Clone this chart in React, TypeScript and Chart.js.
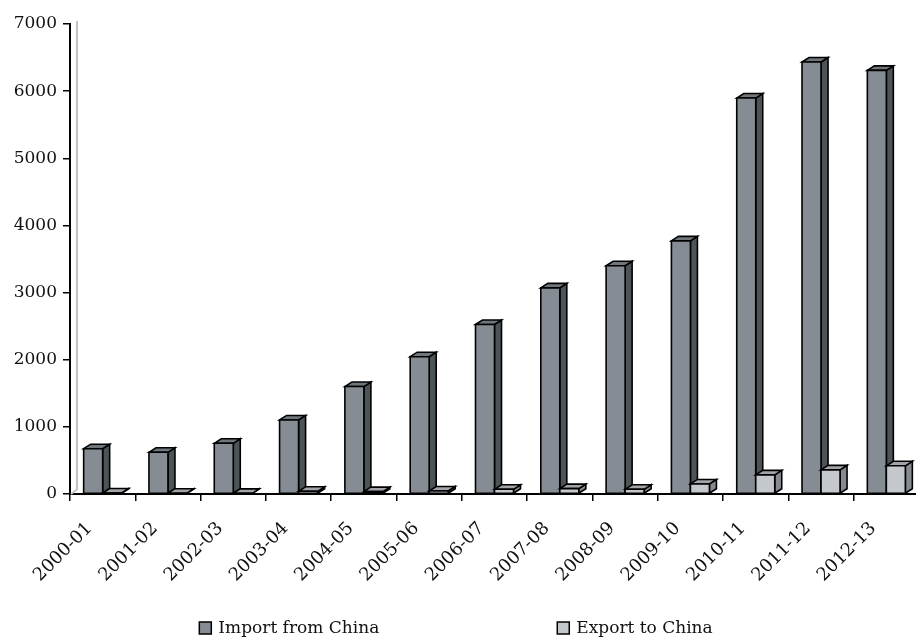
import React, { useEffect, useRef } from "react";
import { Chart, registerables } from "chart.js";

Chart.register(...registerables);

// Fiscal years on the category axis
const categories = [
  "2000-01", "2001-02", "2002-03", "2003-04", "2004-05", "2005-06", "2006-07",
  "2007-08", "2008-09", "2009-10", "2010-11", "2011-12", "2012-13",
];

// Trade values per year
const importFromChina = [675, 621, 755, 1103, 1600, 2045, 2525, 3070, 3400, 3770, 5897, 6434, 6309];
const exportToChina = [15, 12, 10, 40, 35, 45, 70, 80, 70, 150, 285, 360, 420];

const seriesNames = ["Import from China", "Export to China"];
const yMin = 0;
const yMax = 7000;
const yStep = 1000;

const FONT_FAMILY = '"DejaVu Serif", "Liberation Serif", serif';
const FONT_SIZE = 17;
const X_FONT_SIZE = 18;
const TEXT_COLOR = "#111111";

// Face shades for the extruded columns: front, top and right side
const palettes = [
  { front: "#868c93", top: "#6f767c", side: "#4d5457" },
  { front: "#c4c7cc", top: "#a1a5aa", side: "#868b91" },
];
const DEPTH_X = 7;
const DEPTH_Y = 4.5;
const OUTLINE = "#000000";

const CANVAS_W = 930;
const CANVAS_H = 639;

function drawColumn(ctx: CanvasRenderingContext2D, x0: number, x1: number, y: number, base: number, pal: { front: string; top: string; side: string }) {
  ctx.lineWidth = 1.6;
  ctx.strokeStyle = OUTLINE;
  ctx.lineJoin = "miter";

  // right side face
  ctx.beginPath();
  ctx.moveTo(x1, y);
  ctx.lineTo(x1 + DEPTH_X, y - DEPTH_Y);
  ctx.lineTo(x1 + DEPTH_X, base - DEPTH_Y);
  ctx.lineTo(x1, base);
  ctx.closePath();
  ctx.fillStyle = pal.side;
  ctx.fill();
  ctx.stroke();

  // top face
  ctx.beginPath();
  ctx.moveTo(x0, y);
  ctx.lineTo(x0 + DEPTH_X, y - DEPTH_Y);
  ctx.lineTo(x1 + DEPTH_X, y - DEPTH_Y);
  ctx.lineTo(x1, y);
  ctx.closePath();
  ctx.fillStyle = pal.top;
  ctx.fill();
  ctx.stroke();

  // front face
  ctx.beginPath();
  ctx.rect(x0, y, x1 - x0, base - y);
  ctx.fillStyle = pal.front;
  ctx.fill();
  ctx.stroke();
}

const columns3d = {
  id: "columns3d",
  beforeDatasetDraw() {
    return false;
  },
  afterDatasetsDraw(chart: any) {
    const ctx: CanvasRenderingContext2D = chart.ctx;
    const { left, top, bottom } = chart.chartArea;
    ctx.save();

    // back wall edge
    ctx.strokeStyle = "#bfc3c9";
    ctx.lineWidth = 2;
    ctx.beginPath();
    ctx.moveTo(left + DEPTH_X, top - 3);
    ctx.lineTo(left + DEPTH_X, bottom - DEPTH_Y);
    ctx.lineTo(left + 1, bottom);
    ctx.stroke();

    const metas = chart.data.datasets.map((_: any, i: number) => chart.getDatasetMeta(i));
    for (let c = 0; c < categories.length; c++) {
      metas.forEach((meta: any, d: number) => {
        const el = meta.data[c];
        if (!el) return;
        const { x, y, base, width } = el.getProps(["x", "y", "base", "width"], true);
        drawColumn(ctx, x - width / 2, x + width / 2, y, base, palettes[d]);
      });
    }
    ctx.restore();
  },
  afterDraw(chart: any) {
    const ctx: CanvasRenderingContext2D = chart.ctx;
    ctx.save();
    ctx.font = `${FONT_SIZE}px ${FONT_FAMILY}`;
    ctx.textBaseline = "middle";
    ctx.textAlign = "left";
    const box = 12;
    const boxGap = 7;
    const itemGap = 178;
    const widths = seriesNames.map((s) => box + boxGap + ctx.measureText(s).width);
    const total = widths.reduce((a, b) => a + b, 0) + itemGap * (seriesNames.length - 1);
    let x = chart.width / 2 - total / 2 - 9;
    const yc = chart.height - 11;
    seriesNames.forEach((name, i) => {
      ctx.fillStyle = palettes[i].front;
      ctx.fillRect(x, yc - box / 2, box, box);
      ctx.strokeStyle = OUTLINE;
      ctx.lineWidth = 1.5;
      ctx.strokeRect(x, yc - box / 2, box, box);
      ctx.fillStyle = TEXT_COLOR;
      ctx.fillText(name, x + box + boxGap, yc + 1);
      x += widths[i] + itemGap;
    });
    ctx.restore();
  },
};

export default function App() {
  const canvasRef = useRef<HTMLCanvasElement | null>(null);

  useEffect(() => {
    const canvas = canvasRef.current;
    if (!canvas) return;
    const font = { family: FONT_FAMILY, size: FONT_SIZE };
    const chart = new Chart(canvas, {
      type: "bar",
      data: {
        labels: categories,
        datasets: [
          {
            label: seriesNames[0],
            data: importFromChina,
            backgroundColor: palettes[0].front,
            categoryPercentage: 0.582,
            barPercentage: 1,
          },
          {
            label: seriesNames[1],
            data: exportToChina,
            backgroundColor: palettes[1].front,
            categoryPercentage: 0.582,
            barPercentage: 1,
          },
        ],
      },
      options: {
        responsive: false,
        animation: false,
        devicePixelRatio: 1,
        layout: { padding: { top: 24, right: 11, left: 0, bottom: 0 } },
        plugins: {
          legend: { display: false },
          tooltip: { enabled: false },
        },
        scales: {
          x: {
            offset: true,
            grid: {
              offset: true,
              drawOnChartArea: false,
              drawTicks: true,
              tickLength: 7,
              color: OUTLINE,
              lineWidth: 1.5,
            },
            border: { color: OUTLINE, width: 2 },
            ticks: {
              autoSkip: false,
              minRotation: 45,
              maxRotation: 45,
              font: { family: FONT_FAMILY, size: X_FONT_SIZE },
              color: TEXT_COLOR,
              padding: 17,
              labelOffset: -13,
            },
            afterFit: (scale: any) => {
              scale.height = CANVAS_H - 494;
            },
          },
          y: {
            min: yMin,
            max: yMax,
            grid: {
              drawOnChartArea: false,
              drawTicks: true,
              tickLength: 7,
              color: OUTLINE,
              lineWidth: 1.5,
            },
            border: { color: OUTLINE, width: 2 },
            ticks: {
              stepSize: yStep,
              font,
              color: TEXT_COLOR,
              padding: 6,
              callback: (value: any) => String(value),
            },
            afterFit: (scale: any) => {
              scale.width = 70;
            },
          },
        },
      },
      plugins: [columns3d],
    });
    return () => chart.destroy();
  }, []);

  return (
    <div
      style={{
        position: "fixed",
        left: 0,
        top: 0,
        width: 916,
        height: 639,
        overflow: "hidden",
        background: "#ffffff",
      }}
    >
      <canvas ref={canvasRef} width={CANVAS_W} height={CANVAS_H} style={{ display: "block", width: CANVAS_W, height: CANVAS_H }} />
    </div>
  );
}
